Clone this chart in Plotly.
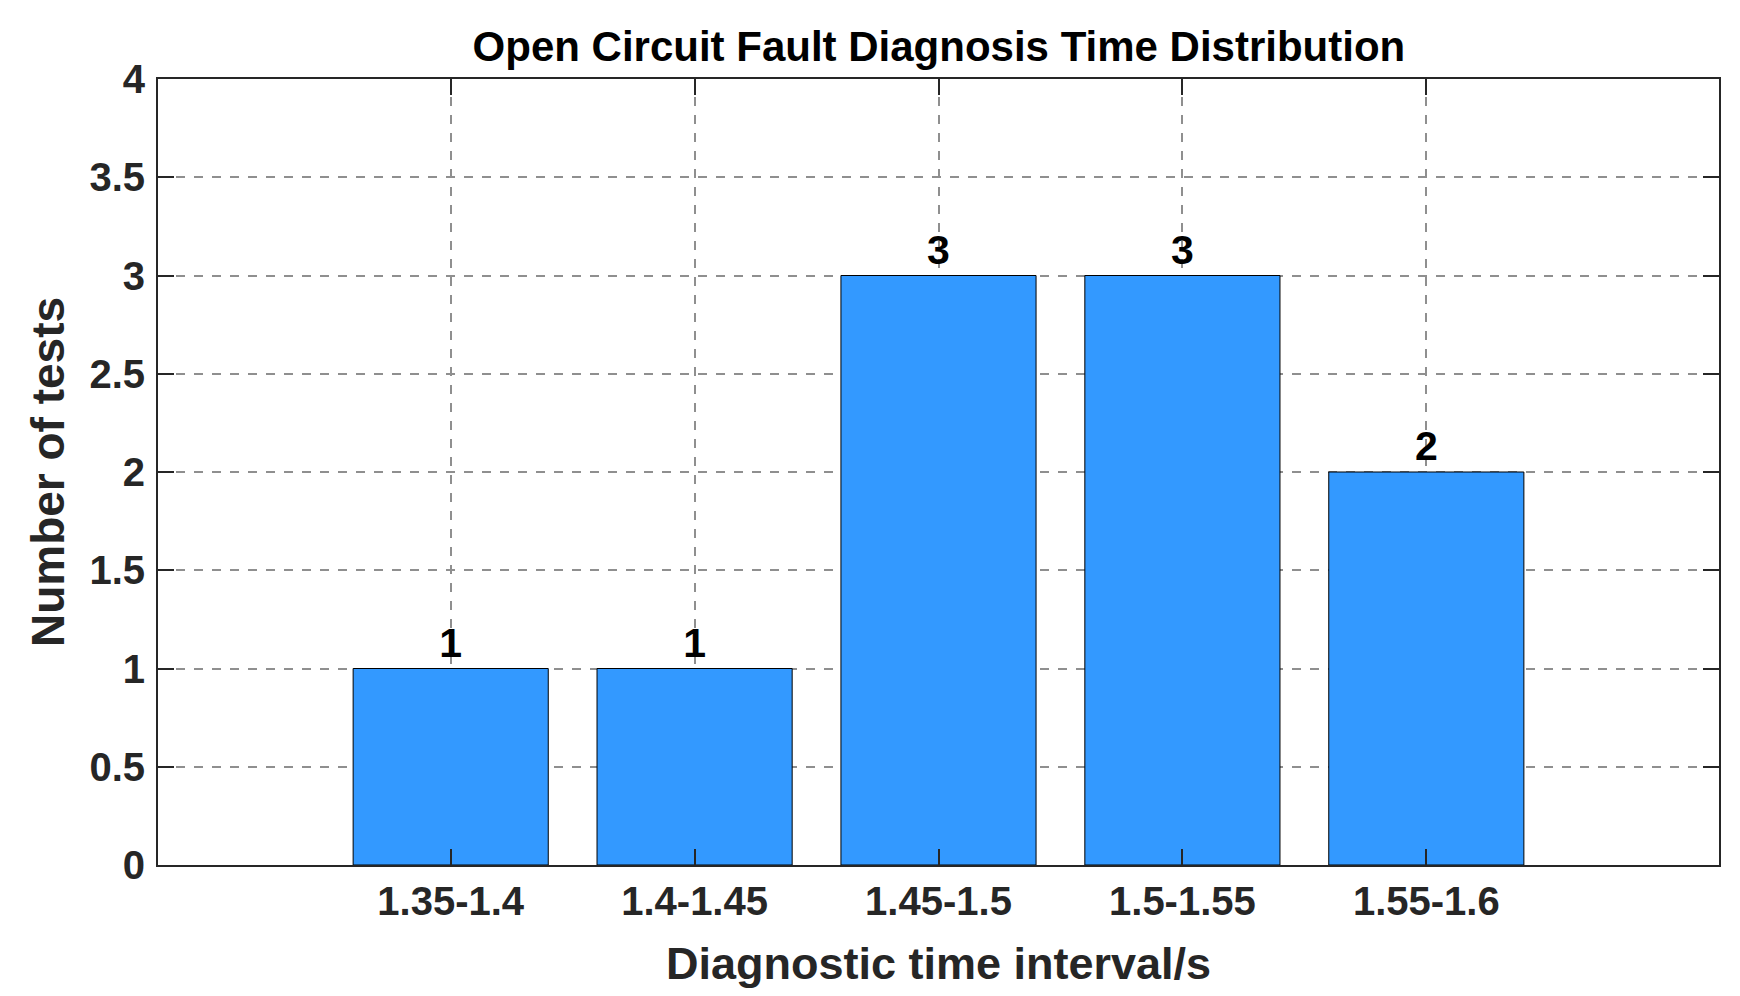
import plotly.graph_objects as go

intervals = ['1.35-1.4', '1.4-1.45', '1.45-1.5', '1.5-1.55', '1.55-1.6']
counts = [1, 1, 3, 3, 2]

font_family = "Arial, Liberation Sans, sans-serif"
axis_color = "#262626"
grid_color = "#8f8f8f"

fig = go.Figure([go.Bar(
    x=intervals,
    y=counts,
    width=0.8,
    marker=dict(color="#3399ff", line=dict(color="black", width=1)),
    text=[str(c) for c in counts],
    textposition="outside",
    textfont=dict(family=font_family, size=41, color="black", weight="bold"),
    cliponaxis=False,
)])

fig.update_layout(
    width=1740,
    height=996,
    plot_bgcolor="white",
    paper_bgcolor="white",
    margin=dict(l=150, r=29, t=71, b=139),
    showlegend=False,
    title=dict(
        text="Open Circuit Fault Diagnosis Time Distribution",
        x=0.535, xanchor="center", y=0.962, yanchor="middle",
        font=dict(family=font_family, size=42, color="black", weight="bold"),
    ),
    font=dict(family=font_family, color=axis_color),
)

fig.update_xaxes(
    range=[-1.2, 5.2],
    title=dict(text="Diagnostic time interval/s", standoff=25,
               font=dict(size=45, color=axis_color, weight="bold")),
    tickfont=dict(size=40, color=axis_color, weight="bold"),
    ticks="inside", ticklen=16, tickwidth=2, tickcolor=axis_color,
    showline=True, linecolor=axis_color, linewidth=2, mirror="ticks",
    showgrid=True, gridcolor=grid_color, griddash="dash", gridwidth=1.5,
)

fig.update_yaxes(
    range=[0, 4],
    dtick=0.5,
    title=dict(text="Number of tests", standoff=10,
               font=dict(size=46, color=axis_color, weight="bold")),
    tickfont=dict(size=40, color=axis_color, weight="bold"),
    ticklabelstandoff=3,
    ticks="inside", ticklen=16, tickwidth=2, tickcolor=axis_color,
    showline=True, linecolor=axis_color, linewidth=2, mirror="ticks",
    showgrid=True, gridcolor=grid_color, griddash="dash", gridwidth=1.5,
    zeroline=False,
)

fig.write_html("out.html")
